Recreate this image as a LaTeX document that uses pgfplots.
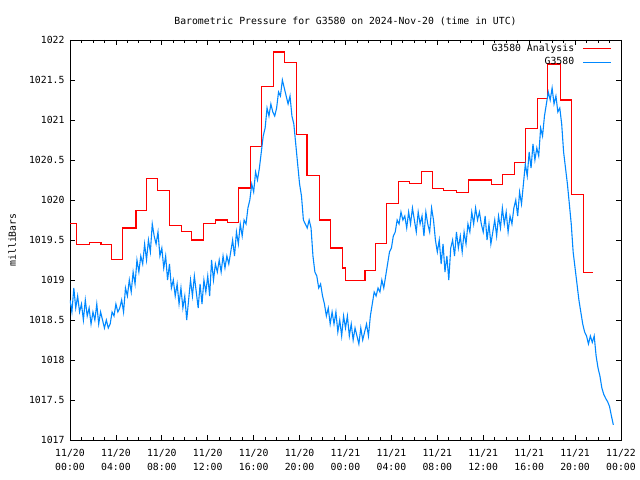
\documentclass[border=0pt]{standalone}
\usepackage{fontspec}
\setmainfont{DejaVu Sans Mono}
\usepackage{pgfplots}
\pgfplotsset{compat=1.18}
\definecolor{anared}{RGB}{255,0,0}
\definecolor{stblue}{RGB}{0,136,255}
\newcommand{\gfont}{\fontsize{9.8bp}{14bp}\selectfont}
\begin{document}
\begin{tikzpicture}
\useasboundingbox (-70bp,-40bp) rectangle (570bp,440bp);
\begin{axis}[
  at={(0,0)}, anchor=south west,
  scale only axis, width=551bp, height=400bp,
  xmin=0, xmax=48, ymin=1017, ymax=1022,
  xtick={0,4,...,48},
  xticklabels={{11/20\\00:00},{11/20\\04:00},{11/20\\08:00},{11/20\\12:00},{11/20\\16:00},{11/20\\20:00},{11/21\\00:00},{11/21\\04:00},{11/21\\08:00},{11/21\\12:00},{11/21\\16:00},{11/21\\20:00},{11/22\\00:00}},
  minor x tick num=3,
  ytick={1017,1017.5,1018,1018.5,1019,1019.5,1020,1020.5,1021,1021.5,1022},
  yticklabels={1017,1017.5,1018,1018.5,1019,1019.5,1020,1020.5,1021,1021.5,1022},
  tick align=inside,
  major tick length=5bp, minor tick length=3bp,
  every tick/.style={black, line width=0.8bp},
  axis line style={black, line width=0.9bp},
  xticklabel style={align=center, font=\gfont, yshift=-6bp},
  yticklabel style={font=\gfont, xshift=-2bp},
  title={Barometric Pressure for G3580 on 2024-Nov-20 (time in UTC)},
  title style={font=\gfont, at={(axis description cs:0.5,1)}, anchor=base, yshift=10bp},
  ylabel={milliBars},
  ylabel style={font=\gfont, at={(axis description cs:-0.105,0.5)}, anchor=center, rotate=0},
  legend plot pos=right,
  legend cell align=right,
  legend image code/.code={\draw[#1] (0bp,0bp) -- (28bp,0bp);},
  legend style={at={(axis description cs:1,1)}, anchor=north east, xshift=-9bp, yshift=-2bp,
    draw=none, fill=none, inner sep=0pt, row sep=2bp, column sep=7bp, font=\gfont,
    nodes={inner sep=1.5bp}},
]
\addplot[const plot, color=anared, line width=1.1bp] coordinates {
(0,1019.71) (0.6,1019.44) (1.7,1019.47) (2.7,1019.44) (3.65,1019.26) (4.6,1019.65)
(5.75,1019.87) (6.7,1020.27) (7.65,1020.12) (8.7,1019.68) (9.75,1019.61) (10.6,1019.50)
(11.65,1019.71) (12.7,1019.75) (13.7,1019.72) (14.7,1020.15) (15.7,1020.67) (16.7,1021.42)
(17.7,1021.85) (18.65,1021.72) (19.7,1020.82) (20.65,1020.31) (21.7,1019.75) (22.7,1019.40)
(23.7,1019.15) (24.0,1018.99) (25.7,1019.12) (26.65,1019.46) (27.6,1019.96) (28.65,1020.23)
(29.6,1020.21) (30.65,1020.36) (31.6,1020.14) (32.5,1020.12) (33.7,1020.09) (34.75,1020.25)
(36.7,1020.19) (37.7,1020.32) (38.7,1020.47) (39.7,1020.89) (40.7,1021.27) (41.6,1021.70)
(42.7,1021.25) (43.7,1020.07) (44.7,1019.09) (45.6,1019.09)
};
\addlegendentry{G3580 Analysis}
\addplot[color=stblue, line width=1.1bp] table[row sep=\\, header=false, x expr=\coordindex/6, y index=0] {
1018.75\\1018.60\\1018.90\\1018.65\\1018.80\\1018.60\\
1018.70\\1018.50\\1018.75\\1018.55\\1018.65\\1018.45\\
1018.60\\1018.50\\1018.70\\1018.45\\1018.60\\1018.50\\
1018.40\\1018.50\\1018.40\\1018.45\\1018.60\\1018.55\\
1018.70\\1018.60\\1018.65\\1018.75\\1018.60\\1018.90\\
1018.80\\1019.00\\1018.85\\1019.10\\1018.95\\1019.25\\
1019.10\\1019.30\\1019.20\\1019.45\\1019.25\\1019.50\\
1019.35\\1019.70\\1019.55\\1019.45\\1019.60\\1019.30\\
1019.40\\1019.15\\1019.30\\1019.00\\1019.20\\1018.90\\
1019.00\\1018.80\\1018.95\\1018.70\\1018.90\\1018.65\\
1018.80\\1018.50\\1018.75\\1019.00\\1018.80\\1019.05\\
1018.85\\1018.65\\1018.95\\1018.70\\1019.00\\1018.85\\
1019.05\\1018.80\\1019.25\\1019.00\\1019.20\\1019.10\\
1019.25\\1019.10\\1019.30\\1019.15\\1019.30\\1019.20\\
1019.35\\1019.50\\1019.30\\1019.60\\1019.45\\1019.70\\
1019.55\\1019.75\\1019.70\\1019.90\\1020.00\\1020.20\\
1020.10\\1020.35\\1020.25\\1020.40\\1020.60\\1020.80\\
1020.90\\1021.15\\1021.05\\1021.20\\1021.10\\1021.05\\
1021.15\\1021.35\\1021.30\\1021.50\\1021.40\\1021.30\\
1021.20\\1021.30\\1021.05\\1020.95\\1020.70\\1020.45\\
1020.20\\1020.05\\1019.75\\1019.70\\1019.65\\1019.75\\
1019.65\\1019.30\\1019.10\\1019.05\\1018.90\\1018.95\\
1018.80\\1018.70\\1018.55\\1018.65\\1018.45\\1018.60\\
1018.45\\1018.60\\1018.35\\1018.50\\1018.30\\1018.55\\
1018.40\\1018.55\\1018.30\\1018.45\\1018.25\\1018.40\\
1018.30\\1018.20\\1018.40\\1018.25\\1018.35\\1018.45\\
1018.30\\1018.55\\1018.70\\1018.85\\1018.80\\1018.90\\
1018.85\\1019.00\\1018.90\\1019.05\\1019.20\\1019.35\\
1019.40\\1019.55\\1019.60\\1019.75\\1019.70\\1019.85\\
1019.75\\1019.80\\1019.65\\1019.85\\1019.70\\1019.90\\
1019.75\\1019.60\\1019.85\\1019.70\\1019.80\\1019.55\\
1019.85\\1019.70\\1019.60\\1019.90\\1019.75\\1019.50\\
1019.35\\1019.50\\1019.20\\1019.45\\1019.10\\1019.30\\
1019.00\\1019.40\\1019.50\\1019.30\\1019.60\\1019.40\\
1019.55\\1019.35\\1019.60\\1019.45\\1019.70\\1019.60\\
1019.85\\1019.70\\1019.90\\1019.75\\1019.85\\1019.70\\
1019.60\\1019.80\\1019.50\\1019.70\\1019.45\\1019.60\\
1019.75\\1019.55\\1019.80\\1019.65\\1019.90\\1019.70\\
1019.85\\1019.60\\1019.80\\1019.70\\1019.90\\1020.00\\
1019.80\\1020.10\\1019.95\\1020.20\\1020.45\\1020.30\\
1020.60\\1020.40\\1020.70\\1020.50\\1020.65\\1020.55\\
1020.90\\1020.80\\1021.05\\1021.20\\1021.35\\1021.25\\
1021.40\\1021.20\\1021.30\\1021.10\\1021.15\\1020.95\\
1020.60\\1020.40\\1020.20\\1019.95\\1019.70\\1019.35\\
1019.15\\1018.95\\1018.75\\1018.60\\1018.45\\1018.35\\
1018.30\\1018.20\\1018.30\\1018.22\\1018.30\\1018.05\\
1017.90\\1017.80\\1017.65\\1017.57\\1017.52\\1017.48\\
1017.42\\1017.30\\1017.19\\
};
\addlegendentry{G3580}
\end{axis}
\end{tikzpicture}
\end{document}
